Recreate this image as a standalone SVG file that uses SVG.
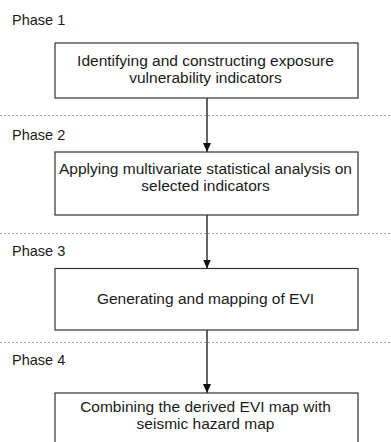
<svg xmlns="http://www.w3.org/2000/svg" width="391" height="442" viewBox="0 0 391 442">
<style>
.box{fill:#fff;stroke:#333;stroke-width:1.2}
.t{font-family:"Liberation Sans",Arial,sans-serif;font-size:15.5px;fill:#1a1a1a;text-anchor:middle}
.ph{font-family:"Liberation Sans",Arial,sans-serif;font-size:14.5px;fill:#1a1a1a}
.sep{stroke:#aaa;stroke-width:1.2;stroke-dasharray:2 2}
.arr{stroke:#111;stroke-width:1.3;fill:none}
</style>
<defs>
<marker id="ah" markerWidth="9" markerHeight="8" refX="9" refY="4" orient="auto" markerUnits="userSpaceOnUse" viewBox="0 0 9 8">
<path d="M0,0 L9,4 L0,8 Z" fill="#111"/>
</marker>
</defs>
<rect width="391" height="442" fill="#fff"/>
<g id="separators">
<line class="sep" x1="0" y1="115.5" x2="391" y2="115.5"/>
<line class="sep" x1="0" y1="233.5" x2="391" y2="233.5"/>
<line class="sep" x1="0" y1="342.5" x2="391" y2="342.5"/>
</g>
<g id="phase-labels">
<text class="ph" x="12" y="25">Phase 1</text>
<text class="ph" x="12" y="140">Phase 2</text>
<text class="ph" x="12" y="256">Phase 3</text>
<text class="ph" x="12" y="365">Phase 4</text>
</g>
<g id="connectors">
<line class="arr" x1="207" y1="98" x2="207" y2="152" marker-end="url(#ah)"/>
<line class="arr" x1="207" y1="215" x2="207" y2="268.5" marker-end="url(#ah)"/>
<line class="arr" x1="207" y1="330" x2="207" y2="393" marker-end="url(#ah)"/>
</g>
<g id="node1">
<rect class="box" x="55" y="43" width="303" height="55"/>
<text class="t" x="205.5" y="66">Identifying and constructing exposure</text>
<text class="t" x="205.5" y="83">vulnerability indicators</text>
</g>
<g id="node2">
<rect class="box" x="55" y="152" width="303" height="63"/>
<text class="t" x="205.5" y="174">Applying multivariate statistical analysis on</text>
<text class="t" x="205.5" y="191">selected indicators</text>
</g>
<g id="node3">
<rect class="box" x="55" y="268.5" width="303" height="61.5"/>
<text class="t" x="205.5" y="304">Generating and mapping of EVI</text>
</g>
<g id="node4">
<rect class="box" x="55" y="393" width="303" height="60"/>
<text class="t" x="205.5" y="412">Combining the derived EVI map with</text>
<text class="t" x="205.5" y="429">seismic hazard map</text>
</g>
</svg>
